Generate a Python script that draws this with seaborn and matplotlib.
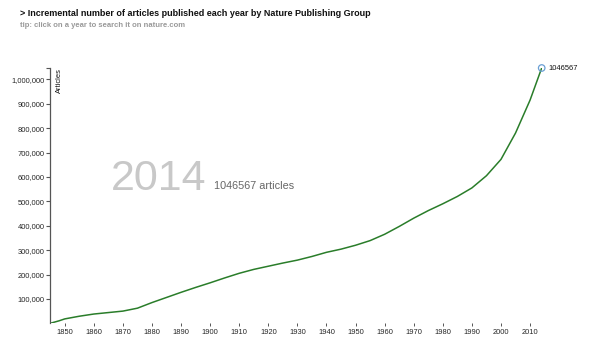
import matplotlib
matplotlib.use("Agg")
import matplotlib.pyplot as plt
import seaborn as sns
import pandas as pd

years = [1845, 1848, 1850, 1855, 1860, 1865, 1870, 1875, 1880, 1885, 1890, 1895,
         1900, 1905, 1910, 1915, 1920, 1925, 1930, 1935, 1940, 1945, 1950, 1955,
         1960, 1965, 1970, 1975, 1980, 1985, 1990, 1995, 2000, 2005, 2010, 2014]
articles = [0, 10000, 18000, 29000, 38000, 44000, 50000, 62000, 85000, 106000, 127000, 147000,
            166000, 186000, 205000, 221000, 234000, 247000, 259000, 274000, 291000, 304000, 320000, 339000,
            365000, 397000, 431000, 462000, 490000, 520000, 555000, 605000, 672000, 780000, 915000, 1046567]
x_ticks = list(range(1850, 2011, 10))
y_ticks = list(range(100000, 1000001, 100000))

title = "> Incremental number of articles published each year by Nature Publishing Group"
subtitle = "tip: click on a year to search it on nature.com"

sns.set_style("white")
plt.rcParams["font.family"] = ["Liberation Sans", "DejaVu Sans"]

df = pd.DataFrame({"year": years, "articles": articles})

fig = plt.figure(figsize=(5.99, 3.56), dpi=100)
W, H = 599, 356
x0, x1 = 50.2, 541.7
ytop, ybot = 68.0, 323.3
ax = fig.add_axes([x0 / W, (H - ybot) / H, (x1 - x0) / W, (ybot - ytop) / H])

sns.lineplot(data=df, x="year", y="articles", ax=ax, color="#2a7d2a", linewidth=1.1)
ax.set_xlim(years[0], years[-1])
ax.set_ylim(0, articles[-1])

for s in ["top", "right", "bottom"]:
    ax.spines[s].set_visible(False)
ax.spines["left"].set_color("#555555")
ax.spines["left"].set_linewidth(0.9)

ax.set_xticks(x_ticks)
ax.set_xticklabels([str(v) for v in x_ticks])
ax.set_yticks(y_ticks)
ax.set_yticklabels([f"{v:,}" for v in y_ticks])
ax.set_yticks([articles[-1]], minor=True)
ax.tick_params(axis="y", which="major", direction="out", length=2.8, width=0.8, color="#555555",
               labelsize=5.4, pad=1.2, left=True)
ax.tick_params(axis="y", which="minor", direction="out", length=2.8, width=0.8, color="#555555", left=True)
ax.tick_params(axis="x", direction="out", length=2.5, width=0.7, color="#555555",
               labelsize=5.4, pad=1.8, bottom=True)
ax.set_xlabel("")
ax.set_ylabel("")
ax.grid(False)
ax.patch.set_alpha(0)

ax.text(0.012, 1.0, "Articles", transform=ax.transAxes, rotation=90, ha="left", va="top",
        fontsize=5.4, color="#111111")

# final point marker
ax.scatter([years[-1]], [articles[-1]], s=22, facecolors="none", edgecolors="#6a9fd4",
           linewidths=0.9, zorder=5, clip_on=False)
ax.annotate(str(articles[-1]), (years[-1], articles[-1]), xytext=(5, 0), textcoords="offset points",
            ha="left", va="center", fontsize=5.4, color="#111111")

fig.text(20 / W, 1 - 14 / H, title, fontsize=6.5, fontweight="bold", color="#111111",
         ha="left", va="center")
fig.text(20 / W, 1 - 25.5 / H, subtitle, fontsize=5.5, fontweight="bold", color="#999999",
         ha="left", va="center")

fig.text(111 / W, 1 - 190 / H, str(years[-1]), fontsize=31, color="#c8c8c8",
         ha="left", va="baseline")
fig.text(214 / W, 1 - 189 / H, f"{articles[-1]} articles", fontsize=7.8, color="#666666",
         ha="left", va="baseline")

fig.savefig("out.png", dpi=100)
